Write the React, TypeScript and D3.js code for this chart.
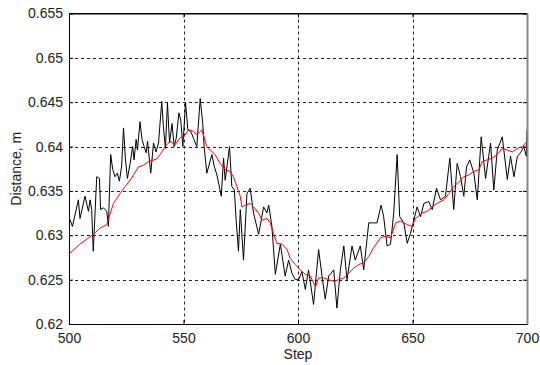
import * as d3 from 'd3';
import React, { useRef, useEffect } from 'react';

// measured distance (black) vs step
const rawSteps = [500.4, 501.5, 504.1, 504.8, 507.0, 507.7, 508.5, 509.2, 509.9, 510.6, 512.1, 513.3, 513.8, 515.0, 516.5, 517.2, 518.2, 519.1, 520.1, 521.1, 522.0, 523.0, 523.8, 524.6, 525.5, 526.7, 527.8, 528.4, 529.3, 529.9, 531.0, 531.9, 532.8, 533.7, 534.3, 535.7, 536.9, 538.0, 539.1, 540.5, 541.2, 542.1, 543.0, 543.9, 545.0, 545.9, 546.8, 548.0, 548.8, 549.7, 550.9, 551.9, 553.2, 554.4, 555.8, 557.3, 558.4, 559.0, 560.2, 562.4, 563.4, 564.6, 566.5, 567.5, 568.2, 570.1, 571.1, 572.2, 573.0, 574.0, 574.8, 576.2, 577.7, 579.1, 580.6, 582.8, 585.0, 586.4, 587.2, 588.6, 590.1, 592.3, 594.4, 595.9, 597.4, 598.8, 600.3, 601.7, 603.2, 604.6, 606.8, 609.0, 610.5, 611.9, 613.4, 615.6, 617.0, 618.5, 620.0, 621.4, 623.6, 625.0, 627.2, 628.7, 630.9, 632.4, 634.5, 636.3, 637.4, 638.9, 640.4, 641.8, 643.3, 644.4, 646.2, 647.7, 649.1, 650.6, 652.0, 653.5, 655.0, 657.1, 658.6, 660.5, 662.2, 664.4, 666.3, 668.0, 669.5, 671.0, 672.4, 673.6, 675.0, 676.8, 678.3, 680.0, 681.9, 684.1, 685.5, 687.0, 689.2, 691.4, 692.8, 694.3, 695.8, 697.2, 698.6, 699.7, 700.0];
const rawDist = [0.6318, 0.6310, 0.6340, 0.6319, 0.6344, 0.6336, 0.6327, 0.6340, 0.6329, 0.6282, 0.6366, 0.6364, 0.6329, 0.6331, 0.6327, 0.6310, 0.6391, 0.6374, 0.6366, 0.6370, 0.6361, 0.6378, 0.6421, 0.6387, 0.6364, 0.6381, 0.6400, 0.6385, 0.6408, 0.6396, 0.6428, 0.6408, 0.6400, 0.6393, 0.6406, 0.6370, 0.6404, 0.6394, 0.6404, 0.6451, 0.6423, 0.6398, 0.6449, 0.6404, 0.6426, 0.6400, 0.6409, 0.6438, 0.6430, 0.6400, 0.6449, 0.6419, 0.6417, 0.6409, 0.6400, 0.6454, 0.6426, 0.6400, 0.6370, 0.6391, 0.6378, 0.6368, 0.6344, 0.6387, 0.6362, 0.6400, 0.6355, 0.6351, 0.6317, 0.6282, 0.6329, 0.6272, 0.6347, 0.6353, 0.6325, 0.6301, 0.6332, 0.6325, 0.6334, 0.6310, 0.6256, 0.6290, 0.6254, 0.6272, 0.6257, 0.6250, 0.6250, 0.6259, 0.6239, 0.6261, 0.6222, 0.6284, 0.6254, 0.6228, 0.6254, 0.6261, 0.6218, 0.6261, 0.6288, 0.6250, 0.6288, 0.6272, 0.6288, 0.6261, 0.6314, 0.6314, 0.6314, 0.6334, 0.6321, 0.6288, 0.6290, 0.6325, 0.6391, 0.6321, 0.6314, 0.6291, 0.6302, 0.6317, 0.6332, 0.6321, 0.6336, 0.6338, 0.6329, 0.6353, 0.6340, 0.6344, 0.6387, 0.6329, 0.6381, 0.6366, 0.6344, 0.6377, 0.6385, 0.6370, 0.6340, 0.6411, 0.6364, 0.6404, 0.6351, 0.6396, 0.6411, 0.6363, 0.6389, 0.6366, 0.6389, 0.6393, 0.6400, 0.6389, 0.6419];

// filtered distance (red)
const smoothSteps = [500, 504.8, 510.6, 513.5, 516.5, 519.4, 522.3, 524.5, 526.7, 530.3, 532.5, 534.7, 538.3, 539.8, 542, 544.2, 546.3, 548.5, 550.7, 552.2, 554.4, 555.8, 558, 560.2, 561.7, 563.8, 566, 568.2, 570.4, 571.8, 573.3, 574.8, 575.5, 577, 579.1, 580.6, 582.8, 584.3, 586.4, 587.9, 589.3, 590.8, 593, 595.2, 596.6, 598.8, 601, 603.2, 605.4, 607.6, 609, 611.2, 613.4, 615.6, 617.8, 620, 622.1, 624.3, 626.5, 628.7, 630.9, 633, 636, 638.2, 640.4, 642.6, 644.7, 647.7, 649.8, 651.3, 654.2, 656.4, 658.6, 660.8, 663.7, 665.9, 668, 670.2, 672.4, 674.6, 676.8, 679, 680.4, 682.6, 684.8, 687, 689.2, 691.4, 693.6, 695.8, 698, 700];
const smoothDist = [0.6279, 0.6290, 0.6301, 0.6308, 0.6312, 0.6336, 0.6347, 0.6355, 0.6362, 0.6377, 0.6379, 0.6383, 0.6386, 0.6391, 0.6400, 0.6406, 0.6402, 0.6410, 0.6413, 0.6419, 0.6417, 0.6413, 0.6419, 0.6400, 0.6396, 0.6391, 0.6381, 0.6374, 0.6372, 0.6366, 0.6355, 0.6344, 0.6332, 0.6334, 0.6336, 0.6332, 0.6325, 0.6317, 0.6319, 0.6314, 0.6302, 0.6291, 0.6290, 0.6284, 0.6274, 0.6267, 0.6261, 0.6256, 0.6254, 0.6242, 0.6252, 0.6252, 0.6250, 0.6248, 0.6250, 0.6252, 0.6257, 0.6263, 0.6267, 0.6269, 0.6276, 0.6286, 0.6297, 0.6299, 0.6297, 0.6314, 0.6316, 0.6312, 0.6310, 0.6319, 0.6325, 0.6327, 0.6332, 0.6336, 0.6340, 0.6347, 0.6355, 0.6360, 0.6366, 0.6368, 0.6372, 0.6374, 0.6383, 0.6385, 0.6387, 0.6391, 0.6398, 0.6396, 0.6394, 0.6398, 0.6400, 0.6406];

const xTicks = [500, 550, 600, 650, 700];
const yTicks = [0.62, 0.625, 0.63, 0.635, 0.64, 0.645, 0.65, 0.655];

const W = 540, H = 365;
const left = 69, right = 527, top = 13.5, bottom = 324;
const font = '"Liberation Sans", Arial, sans-serif';

function App() {
    const ref = useRef(null);

    useEffect(() => {
        const svg = d3.select(ref.current);
        svg.selectAll("*").remove();

        const x = d3.scaleLinear().domain([500, 700]).range([left, right]);
        const y = d3.scaleLinear().domain([0.62, 0.655]).range([bottom, top]);

        svg.append("rect").attr("width", W).attr("height", H).attr("fill", "#fff");

        // grid
        const grid = svg.append("g").attr("stroke", "#222").attr("stroke-width", 1).attr("stroke-dasharray", "3,3");
        xTicks.slice(1, -1).forEach(t => {
            grid.append("line").attr("x1", Math.round(x(t)) + 0.5).attr("x2", Math.round(x(t)) + 0.5).attr("y1", top).attr("y2", bottom);
        });
        yTicks.slice(1, -1).forEach(t => {
            grid.append("line").attr("y1", Math.round(y(t)) + 0.5).attr("y2", Math.round(y(t)) + 0.5).attr("x1", left).attr("x2", right);
        });

        // lines
        const line = d3.line().x(d => x(d[0])).y(d => y(d[1]));
        svg.append("path")
            .datum(rawSteps.map((s, i) => [s, rawDist[i]]))
            .attr("d", line).attr("fill", "none").attr("stroke", "#000").attr("stroke-width", 1);
        svg.append("path")
            .datum(smoothSteps.map((s, i) => [s, smoothDist[i]]))
            .attr("d", line).attr("fill", "none").attr("stroke", "#f00").attr("stroke-width", 1);

        // axes
        const xAx = svg.append("g").attr("transform", `translate(0,${bottom})`)
            .call(d3.axisBottom(x).tickValues(xTicks).tickFormat(d3.format("d")).tickSizeInner(-4).tickSizeOuter(0).tickPadding(9));
        const yAx = svg.append("g").attr("transform", `translate(${left},0)`)
            .call(d3.axisLeft(y).tickValues(yTicks).tickFormat(d => String(+d)).tickSizeInner(-4).tickSizeOuter(0).tickPadding(6));
        svg.append("g").attr("transform", `translate(${right},0)`)
            .call(d3.axisRight(y).tickValues(yTicks).tickFormat(() => "").tickSizeInner(-4).tickSizeOuter(0));
        svg.append("g").attr("transform", `translate(0,${top})`)
            .call(d3.axisTop(x).tickValues(xTicks).tickFormat(() => "").tickSizeInner(-4).tickSizeOuter(0));
        [xAx, yAx].forEach(g => g.selectAll("text").attr("font-family", font).attr("font-size", 14).attr("fill", "#222"));
        svg.selectAll(".domain").attr("stroke", "#000");

        // box
        svg.append("line").attr("x1", left).attr("x2", right).attr("y1", top).attr("y2", top).attr("stroke", "#000");
        svg.append("line").attr("x1", right + 0.5).attr("x2", right + 0.5).attr("y1", top).attr("y2", bottom + 0.5).attr("stroke", "#888").attr("stroke-width", 2);

        svg.append("text").attr("x", (left + right) / 2).attr("y", 359).attr("text-anchor", "middle")
            .attr("font-family", font).attr("font-size", 14).attr("fill", "#222").text("Step");
        svg.append("text").attr("transform", `translate(21,${(top + bottom) / 2}) rotate(-90)`).attr("text-anchor", "middle")
            .attr("font-family", font).attr("font-size", 14).attr("fill", "#222").text("Distance, m");
    }, []);

    return (
        <div style={{ position: "absolute", left: 0, top: 0 }}>
            <svg ref={ref} width={W} height={H} style={{ display: "block" }}></svg>
        </div>
    );
}

export default App;
